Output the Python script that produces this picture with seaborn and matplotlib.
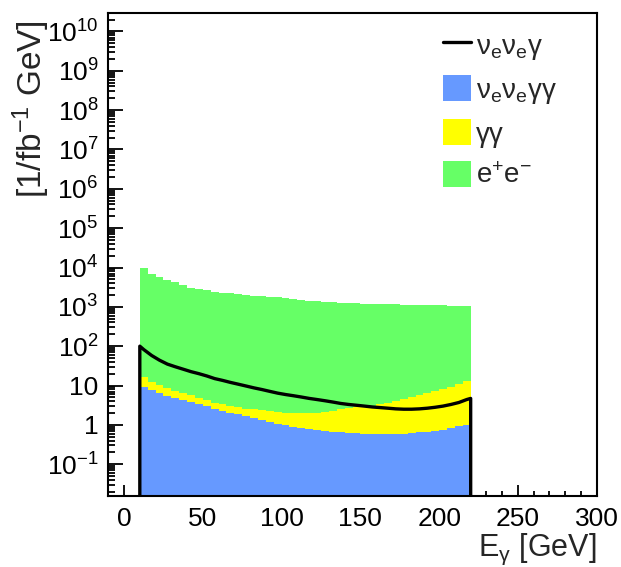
import numpy as np
import pandas as pd
import seaborn as sns
import matplotlib.pyplot as plt
from matplotlib.lines import Line2D
from matplotlib.patches import Patch
from matplotlib.ticker import FixedLocator, LogLocator, MultipleLocator, NullFormatter

# bin centres (5 GeV bins from 10 to 220 GeV)
e_centers = [12.5, 17.5, 22.5, 27.5, 32.5, 37.5, 42.5, 47.5, 52.5, 57.5,
             62.5, 67.5, 72.5, 77.5, 82.5, 87.5, 92.5, 97.5, 102.5, 107.5,
             112.5, 117.5, 122.5, 127.5, 132.5, 137.5, 142.5, 147.5, 152.5, 157.5,
             162.5, 167.5, 172.5, 177.5, 182.5, 187.5, 192.5, 197.5, 202.5, 207.5,
             212.5, 217.5]

# nu_e nu_e gamma gamma (bottom of stack)
nunugg = [9.2, 7.6, 6.5, 5.5, 4.8, 4.3, 3.8, 3.4, 3.0, 2.55,
          2.3, 2.05, 1.85, 1.65, 1.5, 1.35, 1.2, 1.08, 0.98, 0.9,
          0.82, 0.77, 0.73, 0.70, 0.67, 0.64, 0.63, 0.62, 0.60, 0.59,
          0.58, 0.58, 0.59, 0.60, 0.62, 0.64, 0.66, 0.70, 0.76, 0.83,
          0.91, 1.0]

# gamma gamma
gg = [6.8, 4.9, 4.0, 3.2, 2.6, 2.1, 1.8, 1.4, 1.2, 1.05,
      1.0, 0.95, 0.95, 0.95, 1.0, 1.0, 1.0, 1.02, 1.07, 1.1,
      1.13, 1.18, 1.27, 1.4, 1.63, 1.86, 2.07, 2.18, 2.3, 2.51,
      2.72, 3.02, 3.41, 3.9, 4.38, 4.96, 5.64, 6.5, 7.44, 8.57,
      10.09, 12.0]

# e+ e-
ee = [9480, 6890, 5790, 4890, 4190, 3590, 3095, 2845, 2646, 2396,
      2297, 2197, 2097, 1997, 1928, 1858, 1798, 1738, 1648, 1548,
      1458, 1418, 1378, 1338, 1298, 1268, 1247, 1227, 1207, 1187,
      1177, 1156, 1146, 1136, 1125, 1114, 1104, 1093, 1082, 1071,
      1064, 1057]

# nu_e nu_e gamma (signal, drawn as line); end points are the empty bins
nng_e = [10, 10] + e_centers + [220, 220]
nng = [1e-4, 100] + [82, 58, 44, 35, 30, 26, 22.5, 20, 17.5, 15,
                     13.5, 12, 10.8, 9.7, 8.7, 7.9, 7.1, 6.4, 5.9, 5.5,
                     5.1, 4.7, 4.4, 4.1, 3.8, 3.5, 3.3, 3.15, 3.0, 2.85,
                     2.75, 2.65, 2.55, 2.5, 2.5, 2.55, 2.65, 2.8, 3.0, 3.3,
                     3.7, 4.4] + [4.7, 1e-4]

lab_sig = r'ν$_\mathregular{e}$ν$_\mathregular{e}$γ'
lab_nngg = r'ν$_\mathregular{e}$ν$_\mathregular{e}$γγ'
lab_gg = 'γγ'
lab_ee = r'e$^\mathregular{+}$e$^\mathregular{-}$'

colors = {lab_nngg: '#6699ff', lab_gg: '#ffff00', lab_ee: '#66ff66'}

df = pd.DataFrame({
    'E': e_centers * 3,
    'w': nunugg + gg + ee,
    'proc': [lab_nngg] * len(e_centers) + [lab_gg] * len(e_centers) + [lab_ee] * len(e_centers),
})
sig = pd.DataFrame({'E': nng_e, 'y': nng})

sns.set_style('ticks')
plt.rcParams['font.family'] = ['Liberation Sans', 'DejaVu Sans']
plt.rcParams['mathtext.fontset'] = 'custom'
plt.rcParams['mathtext.rm'] = 'Liberation Sans'
plt.rcParams['mathtext.it'] = 'Liberation Sans'

fig = plt.figure(figsize=(6.21, 5.67), dpi=100)
ax = fig.add_axes([0.1744, 0.1261, 0.7865, 0.8515])

# stacked histogram; seaborn stacks last hue level at the bottom
sns.histplot(data=df, x='E', weights='w', hue='proc',
             hue_order=[lab_ee, lab_gg, lab_nngg], palette=colors,
             binwidth=5, binrange=(10, 220), multiple='stack', element='step',
             fill=True, alpha=1, linewidth=0, legend=False, ax=ax)

sns.lineplot(data=sig, x='E', y='y', sort=False, estimator=None,
             color='black', linewidth=2.4, ax=ax)

ax.set_yscale('log')
ax.set_xlim(-10, 300)
ax.set_ylim(1.6e-2, 3e10)

ax.xaxis.set_major_locator(MultipleLocator(50))
ax.xaxis.set_minor_locator(MultipleLocator(10))
yt = [10.0 ** k for k in range(-1, 11)]
ylab = []
for k in range(-1, 11):
    if k == 0:
        ylab.append('1')
    elif k == 1:
        ylab.append('10')
    else:
        ylab.append(r'$\mathregular{10^{%d}}$' % k)
ax.yaxis.set_major_locator(FixedLocator(yt))
ax.set_yticklabels(ylab)
ax.yaxis.set_minor_locator(LogLocator(base=10, subs=np.arange(2, 10), numticks=30))
ax.yaxis.set_minor_formatter(NullFormatter())

ax.tick_params(axis='both', which='both', direction='in', width=1.3,
               labelsize=19, colors='black')
ax.tick_params(axis='y', which='major', length=10.5, pad=7)
ax.tick_params(axis='y', which='minor', length=5)
ax.tick_params(axis='x', which='major', length=8, pad=8)
ax.tick_params(axis='x', which='minor', length=3.5)
for s in ax.spines.values():
    s.set_linewidth(1.5)
    s.set_color('black')

ax.set_xlabel(r'E$_\mathregular{γ}$ [GeV]', fontsize=22, loc='right')
ax.set_ylabel(r'[1/fb$^\mathregular{-1}$ GeV]', fontsize=24, loc='top')
ax.xaxis.set_label_coords(1.0, -0.075)
ax.yaxis.set_label_coords(-0.115, 0.985)

handles = [Line2D([], [], color='black', linewidth=2.4),
           Patch(facecolor=colors[lab_nngg], edgecolor='none'),
           Patch(facecolor=colors[lab_gg], edgecolor='none'),
           Patch(facecolor=colors[lab_ee], edgecolor='none')]
fig.legend(handles, [lab_sig, lab_nngg, lab_gg, lab_ee], loc='upper left',
           bbox_to_anchor=(443 / 621, 1 - 31 / 567), frameon=False,
           fontsize=20, handlelength=1.0, handleheight=1.08,
           handletextpad=0.2, labelspacing=0.48, borderpad=0, borderaxespad=0)

fig.savefig('out.png', dpi=100)
